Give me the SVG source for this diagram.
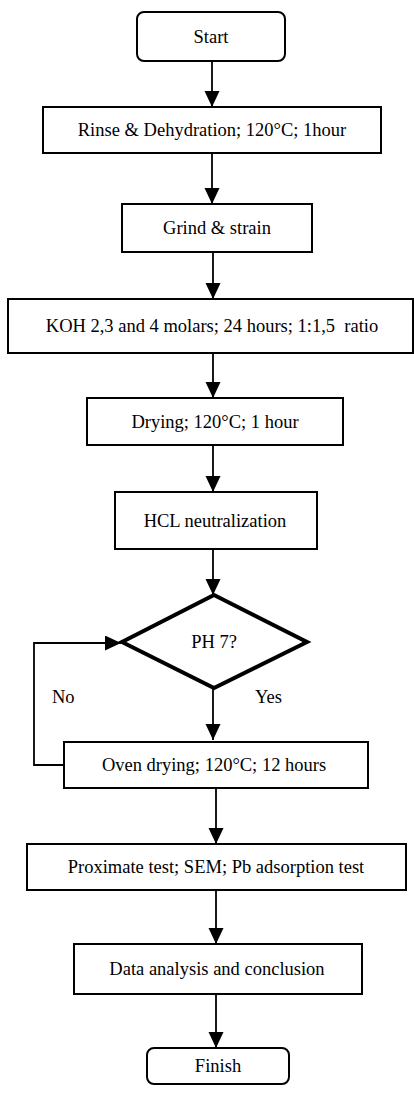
<svg xmlns="http://www.w3.org/2000/svg" width="414" height="1095" viewBox="0 0 414 1095">
<style>
.box{fill:#fff;stroke:#000;stroke-width:2}
.dia{fill:#fff;stroke:#000;stroke-width:4;stroke-linejoin:miter}
.t{font-family:'Liberation Serif',serif;font-size:18.5px;fill:#000;text-anchor:middle}
.l{font-family:'Liberation Serif',serif;font-size:18.5px;fill:#000}
.c{fill:none;stroke:#000;stroke-width:1.8}
</style>
<defs>
<marker id="ah" markerUnits="userSpaceOnUse" markerWidth="16" markerHeight="16" refX="16" refY="7.5" orient="auto">
<path d="M0,0 L16,7.5 L0,15 z" fill="#000"/>
</marker>
</defs>
<g id="connectors">
<line class="c" x1="212" y1="61" x2="212" y2="107" marker-end="url(#ah)"/>
<line class="c" x1="212" y1="153" x2="212" y2="204" marker-end="url(#ah)"/>
<line class="c" x1="213" y1="252" x2="213" y2="299" marker-end="url(#ah)"/>
<line class="c" x1="213" y1="353" x2="213" y2="398" marker-end="url(#ah)"/>
<line class="c" x1="213" y1="445" x2="213" y2="492" marker-end="url(#ah)"/>
<line class="c" x1="213" y1="549" x2="213" y2="595" marker-end="url(#ah)"/>
<line class="c" x1="213" y1="688" x2="213" y2="740" marker-end="url(#ah)"/>
<polyline class="c" points="64,765 34,765 34,643 121,643" marker-end="url(#ah)"/>
<line class="c" x1="216" y1="788" x2="216" y2="844" marker-end="url(#ah)"/>
<line class="c" x1="216" y1="890" x2="216" y2="944" marker-end="url(#ah)"/>
<line class="c" x1="216" y1="994" x2="216" y2="1048" marker-end="url(#ah)"/>
<text class="l" x="52" y="703">No</text>
<text class="l" x="255" y="703">Yes</text>
</g>
<g id="start"><rect class="box" x="137" y="12" width="148" height="49" rx="7"/><text class="t" x="211" y="43">Start</text></g>
<g id="rinse"><rect class="box" x="43" y="107" width="338" height="46"/><text class="t" x="212" y="136">Rinse &amp; Dehydration; 120°C; 1hour</text></g>
<g id="grind"><rect class="box" x="122" y="204" width="190" height="48"/><text class="t" x="217" y="234">Grind &amp; strain</text></g>
<g id="koh"><rect class="box" x="8" y="299" width="405" height="54"/><text class="t" x="212" y="332">KOH 2,3 and 4 molars; 24 hours; 1:1,5&#160; ratio</text></g>
<g id="drying"><rect class="box" x="87" y="398" width="256" height="47"/><text class="t" x="215" y="428">Drying; 120°C; 1 hour</text></g>
<g id="hcl"><rect class="box" x="115" y="492" width="202" height="57"/><text class="t" x="215" y="527">HCL neutralization</text></g>
<g id="ph"><polygon class="dia" points="214,595 307,642 214,688 122,642"/><text class="t" x="214" y="648">PH 7?</text></g>
<g id="oven"><rect class="box" x="64" y="742" width="304" height="46"/><text class="t" x="214" y="771">Oven drying; 120°C; 12 hours</text></g>
<g id="proximate"><rect class="box" x="27" y="844" width="379" height="46"/><text class="t" x="216" y="873">Proximate test; SEM; Pb adsorption test</text></g>
<g id="data"><rect class="box" x="74" y="944" width="288" height="50"/><text class="t" x="217" y="975">Data analysis and conclusion</text></g>
<g id="finish"><rect class="box" x="147" y="1048" width="142" height="36" rx="7"/><text class="t" x="218" y="1072">Finish</text></g>
</svg>
